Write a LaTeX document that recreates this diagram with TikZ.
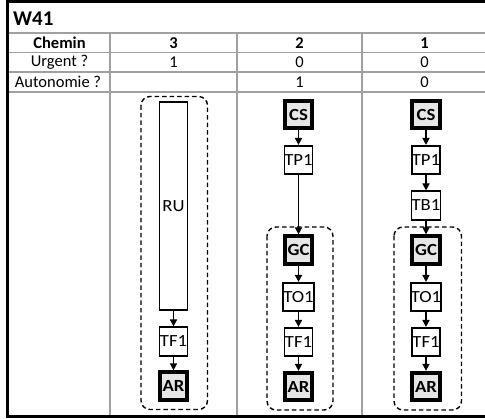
\documentclass[tikz,border=0pt]{standalone}
\usepackage{fontspec}
\setmainfont{Carlito}
\newfontfamily\boxfont{Carlito}[FakeStretch=1.1]
\usetikzlibrary{arrows.meta}
\definecolor{gridgray}{HTML}{A0A0A0}
\definecolor{boxfill}{HTML}{E6E6E6}
\tikzset{
  x=1pt, y=-1pt,
  gridline/.style={draw=gridgray, line width=1.4},
  frameline/.style={draw=black, line width=3.2},
  cell/.style={font=\fontsize{16.5}{17}\selectfont, inner sep=0pt, anchor=center},
  hcell/.style={cell, font=\fontsize{16.5}{17}\selectfont\bfseries},
  thinbox/.style={draw=black, line width=1.6, fill=white, minimum width=28, minimum height=28.5, inner sep=0pt, font=\boxfont\fontsize{17}{18}\selectfont},
  thickbox/.style={draw=black, line width=3.8, fill=boxfill, minimum width=27.5, minimum height=27.5, inner sep=0pt, font=\boxfont\fontsize{17}{18}\selectfont\bfseries},
  flow/.style={draw=black, line width=1.6, -{Triangle[length=7pt,width=7pt]}},
  group/.style={draw=black, line width=1.4, dash pattern=on 4.5pt off 3pt, rounded corners=9pt},
}
\begin{document}
\begin{tikzpicture}
\useasboundingbox (0,0) rectangle (485,419);
\clip (0,0) rectangle (485,419);
% grid
\foreach \yy in {33,52.5,72,92} \draw[gridline] (9,\yy) -- (490,\yy);
\foreach \xx in {110,237,362} \draw[gridline] (\xx,33) -- (\xx,415);
% frame
\draw[frameline] (490,1.5) -- (7.5,1.5) -- (7.5,416.5) -- (490,416.5);
% title
\node[cell, font=\fontsize{21}{23}\selectfont\bfseries, anchor=west] (title) at (13,18.5) {W41};
% header rows
\node[hcell] (h0) at (59.5,43) {Chemin};
\node[hcell] (h3) at (173.5,43) {3};
\node[hcell] (h2) at (299.5,43) {2};
\node[hcell] (h1) at (424.5,43) {1};
\node[cell] (u0) at (59.5,62.5) {Urgent ?};
\node[cell] (u3) at (173.5,62.5) {1};
\node[cell] (u2) at (299.5,62.5) {0};
\node[cell] (u1) at (424.5,62.5) {0};
\node[cell] (a0) at (58,82) {Autonomie ?};
\node[cell] (a2) at (299.5,82) {1};
\node[cell] (a1) at (424.5,82) {0};
% dashed groups
\draw[group] (141,96.5) rectangle (207.5,409.5);
\draw[group] (267,227) rectangle (333,410);
\draw[group] (394,227) rectangle (461.5,410);
% column 3
\node[thinbox, minimum height=208.5] (ru3) at (173.5,206) {RU};
\node[thinbox] (tf3) at (173.5,341.5) {TF1};
\node[thickbox] (ar3) at (173.5,386) {AR};
\draw[flow] (ru3) -- (tf3);
\draw[flow] (tf3) -- (ar3);
% column 2
\node[thickbox] (cs2) at (298.5,114.5) {CS};
\node[thinbox] (tp2) at (298.5,160) {TP1};
\node[thickbox] (gc2) at (298.5,250) {GC};
\node[thinbox] (to2) at (298.5,297) {TO1};
\node[thinbox] (tf2) at (298.5,342) {TF1};
\node[thickbox] (ar2) at (298.5,386.5) {AR};
\draw[flow] (cs2) -- (tp2);
\draw[flow] (tp2) -- (gc2);
\draw[flow] (gc2) -- (to2);
\draw[flow] (to2) -- (tf2);
\draw[flow] (tf2) -- (ar2);
% column 1
\node[thickbox] (cs1) at (426,114.5) {CS};
\node[thinbox] (tp1) at (426,160) {TP1};
\node[thinbox] (tb1) at (426,205.5) {TB1};
\node[thickbox] (gc1) at (426,250) {GC};
\node[thinbox] (to1) at (426,297) {TO1};
\node[thinbox] (tf1) at (426,342) {TF1};
\node[thickbox] (ar1) at (426,386.5) {AR};
\draw[flow] (cs1) -- (tp1);
\draw[flow] (tp1) -- (tb1);
\draw[flow] (tb1) -- (gc1);
\draw[flow] (gc1) -- (to1);
\draw[flow] (to1) -- (tf1);
\draw[flow] (tf1) -- (ar1);
\end{tikzpicture}
\end{document}
